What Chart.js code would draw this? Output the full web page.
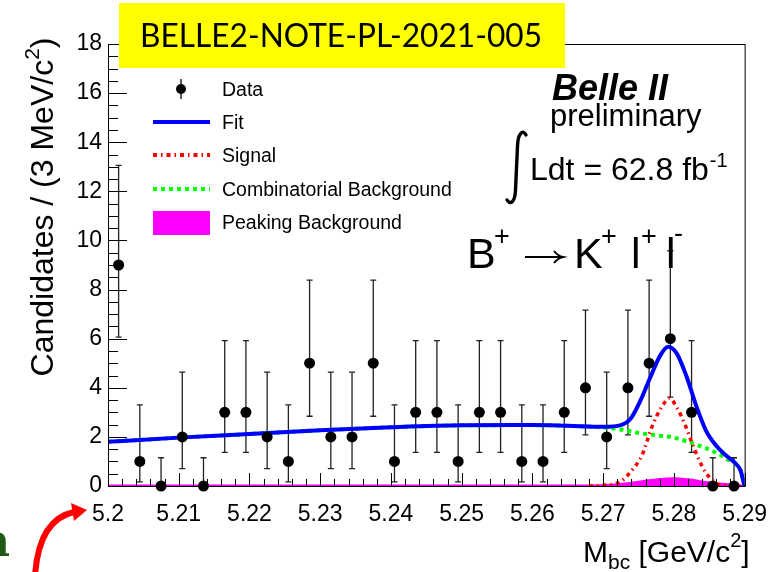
<!DOCTYPE html>
<html>
<head>
<meta charset="utf-8">
<script src="https://cdn.jsdelivr.net/npm/chart.js@4.4.0/dist/chart.umd.min.js"></script>
<style>
html, body { margin: 0; padding: 0; background: #fff; }
canvas { display: block; }
</style>
</head>
<body>
<canvas id="c" width="782" height="572"></canvas>
<script>
// data (3 MeV bins)
var binCenters = [5.2015, 5.2045, 5.2075, 5.2105, 5.2135, 5.2165, 5.2195, 5.2225, 5.2255, 5.2285,
                  5.2315, 5.2345, 5.2375, 5.2405, 5.2435, 5.2465, 5.2495, 5.2525, 5.2555, 5.2585,
                  5.2615, 5.2645, 5.2675, 5.2705, 5.2735, 5.2765, 5.2795, 5.2825, 5.2855, 5.2885];
var counts = [9, 1, 0, 2, 0, 3, 3, 2, 1, 5, 2, 2, 5, 1, 3, 3, 1, 3, 3, 1, 1, 3, 4, 2, 4, 5, 6, 3, 0, 0];
var lowEnd = [6.06, 0.17, 0, 0.71, 0, 1.37, 1.37, 0.71, 0.17, 2.84, 0.71, 0.71, 2.84, 0.17, 1.37,
              1.37, 0.17, 1.37, 1.37, 0.17, 0.17, 1.37, 2.08, 0.71, 2.08, 2.84, 3.62, 1.37, 0, 0];
var highEnd = [13.06, 3.3, 1.15, 4.64, 1.15, 5.92, 5.92, 4.64, 3.3, 8.38, 4.64, 4.64, 8.38, 3.3, 5.92,
               5.92, 3.3, 5.92, 5.92, 3.3, 3.3, 5.92, 7.16, 4.64, 7.16, 8.38, 9.58, 5.92, 1.15, 1.15];

var fitMass = [5.200, 5.210, 5.220, 5.230, 5.240, 5.250, 5.260, 5.265, 5.270, 5.2725, 5.2739, 5.2753,
               5.2767, 5.2781, 5.2792, 5.2804, 5.2818, 5.2832, 5.2845, 5.2859, 5.2873, 5.2887, 5.2894, 5.2899, 5.290];
var fitVal = [1.80, 1.97, 2.12, 2.27, 2.39, 2.47, 2.48, 2.45, 2.41, 2.48, 2.75, 3.50,
              4.45, 5.33, 5.67, 5.40, 4.45, 3.23, 2.28, 1.67, 1.26, 0.92, 0.65, 0.11, 0];

var combMass = [5.200, 5.210, 5.220, 5.230, 5.240, 5.250, 5.260, 5.265, 5.270, 5.2725, 5.275, 5.278,
                5.280, 5.282, 5.284, 5.286, 5.2875, 5.2887, 5.2894, 5.2899, 5.290];
var combVal = [1.80, 1.97, 2.12, 2.27, 2.39, 2.47, 2.48, 2.45, 2.38, 2.30, 2.16, 2.05,
               1.97, 1.80, 1.60, 1.35, 1.10, 0.90, 0.64, 0.11, 0];

var sigMass = [5.268, 5.270, 5.2715, 5.2725, 5.2739, 5.2755, 5.2769, 5.2783, 5.2794, 5.2805,
               5.2815, 5.2825, 5.2835, 5.2845, 5.2855, 5.2865, 5.290];
var sigVal = [0, 0.03, 0.08, 0.18, 0.58, 1.26, 2.41, 3.23, 3.57, 3.15, 2.55, 1.80, 1.10, 0.55, 0.22, 0.04, 0];

var peakMass = [5.200, 5.268, 5.272, 5.275, 5.278, 5.280, 5.282, 5.285, 5.288, 5.290];
var peakVal = [0, 0, 0.05, 0.15, 0.27, 0.30, 0.25, 0.12, 0.04, 0];

var legendLabels = ['Data', 'Fit', 'Signal', 'Combinatorial Background', 'Peaking Background'];

var FONT = '"Liberation Sans", Arial, sans-serif';

function pts(xs, ys) {
    return xs.map(function(x, i) { return {x: x, y: ys[i]}; });
}

function drawParts(ctx, x, y, parts) {
    // parts: [text, size, dy]
    parts.forEach(function(p) {
        ctx.font = p[1] + 'px ' + FONT;
        ctx.fillText(p[0], x, y + p[2]);
        x += ctx.measureText(p[0]).width;
    });
    return x;
}

var rootStyle = {
    id: 'rootStyle',
    beforeDatasetsDraw: function(chart) {
        var ctx = chart.ctx, xs = chart.scales.x, ys = chart.scales.y;
        ctx.save();
        ctx.strokeStyle = '#222';
        ctx.lineWidth = 1.3;
        for (var i = 0; i < binCenters.length; i++) {
            var px = xs.getPixelForValue(binCenters[i]);
            var y1 = ys.getPixelForValue(lowEnd[i]);
            var y2 = ys.getPixelForValue(highEnd[i]);
            ctx.beginPath();
            ctx.moveTo(px, y1); ctx.lineTo(px, y2);
            ctx.moveTo(px - 3, y2); ctx.lineTo(px + 3, y2);
            if (lowEnd[i] > 0) { ctx.moveTo(px - 3, y1); ctx.lineTo(px + 3, y1); }
            ctx.stroke();
        }
        ctx.restore();
    },
    afterDraw: function(chart) {
        var ctx = chart.ctx, a = chart.chartArea, xs = chart.scales.x, ys = chart.scales.y;
        ctx.save();
        // frame
        ctx.strokeStyle = '#000';
        ctx.lineWidth = 1;
        ctx.strokeRect(a.left + 0.5, a.top + 0.5, a.right - a.left, a.bottom - a.top);
        // inward ticks
        ctx.beginPath();
        for (var k = 0; k <= 36; k++) {
            var py = Math.round(ys.getPixelForValue(k * 0.5)) + 0.5;
            var len = (k % 4 === 0) ? 19 : 10;
            ctx.moveTo(a.left, py); ctx.lineTo(a.left + len, py);
        }
        for (var j = 0; j <= 45; j++) {
            var px = Math.round(xs.getPixelForValue(5.2 + j * 0.002)) + 0.5;
            var l2 = (j % 5 === 0) ? 13 : 7;
            ctx.moveTo(px, a.bottom); ctx.lineTo(px, a.bottom - l2);
        }
        ctx.stroke();

        // legend
        ctx.fillStyle = '#000';
        ctx.font = '19.5px ' + FONT;
        ctx.textBaseline = 'alphabetic';
        var ly = [89, 122, 155, 189, 222];
        legendLabels.forEach(function(t, i) { ctx.fillText(t, 222, ly[i] + 7); });
        ctx.strokeStyle = '#000'; ctx.lineWidth = 1.3;
        ctx.beginPath(); ctx.moveTo(181, 79); ctx.lineTo(181, 99); ctx.stroke();
        ctx.beginPath(); ctx.arc(181, 89, 5, 0, Math.PI * 2); ctx.fill();
        ctx.lineWidth = 4;
        ctx.strokeStyle = '#0000ff';
        ctx.beginPath(); ctx.moveTo(153, 122); ctx.lineTo(210, 122); ctx.stroke();
        ctx.strokeStyle = '#ff0000'; ctx.setLineDash([4, 4, 1.5, 4]);
        ctx.beginPath(); ctx.moveTo(153, 155); ctx.lineTo(210, 155); ctx.stroke();
        ctx.strokeStyle = '#00ff00'; ctx.setLineDash([4, 4]);
        ctx.beginPath(); ctx.moveTo(153, 189); ctx.lineTo(210, 189); ctx.stroke();
        ctx.setLineDash([]);
        ctx.fillStyle = '#ff00ff';
        ctx.fillRect(153, 211, 57, 24);

        // Belle II labels
        ctx.fillStyle = '#000';
        ctx.font = 'italic bold 36px ' + FONT;
        ctx.fillText('Belle II', 552, 100);
        ctx.font = '31px ' + FONT;
        ctx.fillText('preliminary', 550, 126);
        var ex = drawParts(ctx, 530, 180, [['Ldt = 62.8 fb', 32, 0]]);
        drawParts(ctx, ex + 1, 167, [['-1', 20, 0]]);
        // integral sign
        ctx.lineWidth = 3.4;
        ctx.lineCap = 'round';
        ctx.strokeStyle = '#000';
        ctx.beginPath();
        ctx.moveTo(526, 135);
        ctx.bezierCurveTo(523, 129, 518, 133, 517.5, 146);
        ctx.lineTo(515.5, 190);
        ctx.bezierCurveTo(515, 203, 510, 205, 507, 200);
        ctx.stroke();
        ctx.lineCap = 'butt';

        // decay
        ctx.font = '43px ' + FONT;
        ctx.fillText('B', 467, 268);
        ctx.fillText('K', 574, 268);
        ctx.fillText('l', 631, 268);
        ctx.fillText('l', 666, 268);
        ctx.font = '27px ' + FONT;
        ctx.fillText('+', 494, 245);
        ctx.fillText('+', 601, 245);
        ctx.fillText('+', 641, 245);
        ctx.fillText('-', 674, 242);
        ctx.lineWidth = 2;
        ctx.beginPath();
        ctx.moveTo(525, 257); ctx.lineTo(562, 257);
        ctx.moveTo(554, 251); ctx.quadraticCurveTo(558, 256, 563, 257); ctx.quadraticCurveTo(558, 258, 554, 263);
        ctx.stroke();

        // y axis title (rotated)
        ctx.save();
        ctx.translate(53, 207);
        ctx.rotate(-Math.PI / 2);
        ctx.font = '32px ' + FONT;
        var w1 = ctx.measureText('Candidates / (3 MeV/c').width;
        ctx.font = '21px ' + FONT;
        var w2 = ctx.measureText('2').width;
        ctx.font = '32px ' + FONT;
        var w3 = ctx.measureText(')').width;
        var sx = -(w1 + w2 + w3) / 2;
        drawParts(ctx, sx, 0, [['Candidates / (3 MeV/c', 32, 0], ['2', 21, -14], [')', 32, 0]]);
        ctx.restore();

        // x axis title
        drawParts(ctx, 583, 562, [['M', 30, 0], ['bc', 21, 7], [' [GeV/c', 30, 0], ['2', 20, -15], [']', 30, 0]]);

        // yellow note box
        ctx.fillStyle = '#ffff00';
        ctx.fillRect(119, 3, 446, 65);
        ctx.fillStyle = '#000';
        ctx.font = '33px Lato, "Open Sans", sans-serif';
        var nt = 'BELLE2-NOTE-PL-2021-005';
        var nw = ctx.measureText(nt).width;
        ctx.save();
        ctx.translate(140, 47);
        ctx.scale(402 / nw, 1);
        ctx.fillText(nt, 0, 0);
        ctx.restore();

        // slide leftovers: red arrow and green letter
        ctx.strokeStyle = '#ff0000';
        ctx.fillStyle = '#ff0000';
        ctx.lineWidth = 6;
        ctx.beginPath();
        ctx.moveTo(35, 576);
        ctx.bezierCurveTo(37, 545, 46, 518, 74, 512);
        ctx.stroke();
        ctx.beginPath();
        ctx.moveTo(87, 510); ctx.lineTo(71, 503); ctx.lineTo(74, 521); ctx.closePath();
        ctx.fill();
        ctx.fillStyle = '#1e5a14';
        ctx.font = 'bold 44px "DejaVu Serif", serif';
        ctx.fillText('n', -22, 556);
        ctx.restore();
    }
};

var config = {
    type: 'scatter',
    data: {
        datasets: [{
            label: 'Data',
            data: pts(binCenters, counts),
            pointRadius: 5.5,
            pointBackgroundColor: '#000',
            pointBorderWidth: 0,
            clip: false,
            order: 0
        }, {
            label: 'Fit',
            data: pts(fitMass, fitVal),
            showLine: true,
            borderColor: '#0000ff',
            borderWidth: 4,
            pointRadius: 0,
            cubicInterpolationMode: 'monotone',
            order: 1
        }, {
            label: 'Signal',
            data: pts(sigMass, sigVal),
            showLine: true,
            borderColor: '#ff0000',
            borderWidth: 3.5,
            borderDash: [4, 4, 1.5, 4],
            pointRadius: 0,
            cubicInterpolationMode: 'monotone',
            order: 2
        }, {
            label: 'Combinatorial Background',
            data: pts(combMass, combVal),
            showLine: true,
            borderColor: '#00ff00',
            borderWidth: 4,
            borderDash: [4, 4],
            pointRadius: 0,
            cubicInterpolationMode: 'monotone',
            order: 3
        }, {
            label: 'Peaking Background',
            data: pts(peakMass, peakVal),
            showLine: true,
            borderColor: '#ff00ff',
            backgroundColor: '#ff00ff',
            borderWidth: 3,
            fill: 'origin',
            pointRadius: 0,
            cubicInterpolationMode: 'monotone',
            order: 4
        }]
    },
    options: {
        responsive: false,
        animation: false,
        layout: { padding: { top: 44, right: 26, left: 0, bottom: 0 } },
        plugins: {
            legend: { display: false },
            tooltip: { enabled: false }
        },
        scales: {
            x: {
                type: 'linear',
                min: 5.2,
                max: 5.29,
                grid: { display: false, drawTicks: false },
                border: { display: false },
                afterFit: function(s) { s.height = 86; },
                ticks: {
                    stepSize: 0.01,
                    autoSkip: false,
                    maxRotation: 0,
                    padding: 15,
                    color: '#000',
                    font: { family: FONT, size: 23 },
                    callback: function(v) { return String(Number(v.toFixed(3))); }
                }
            },
            y: {
                min: 0,
                max: 18,
                grid: { display: false, drawTicks: false },
                border: { display: false },
                afterFit: function(s) { s.width = 108; },
                ticks: {
                    stepSize: 2,
                    padding: 6,
                    color: '#000',
                    font: { family: FONT, size: 23 }
                }
            }
        }
    },
    plugins: [rootStyle]
};

new Chart(document.getElementById('c').getContext('2d'), config);
</script>
</body>
</html>
